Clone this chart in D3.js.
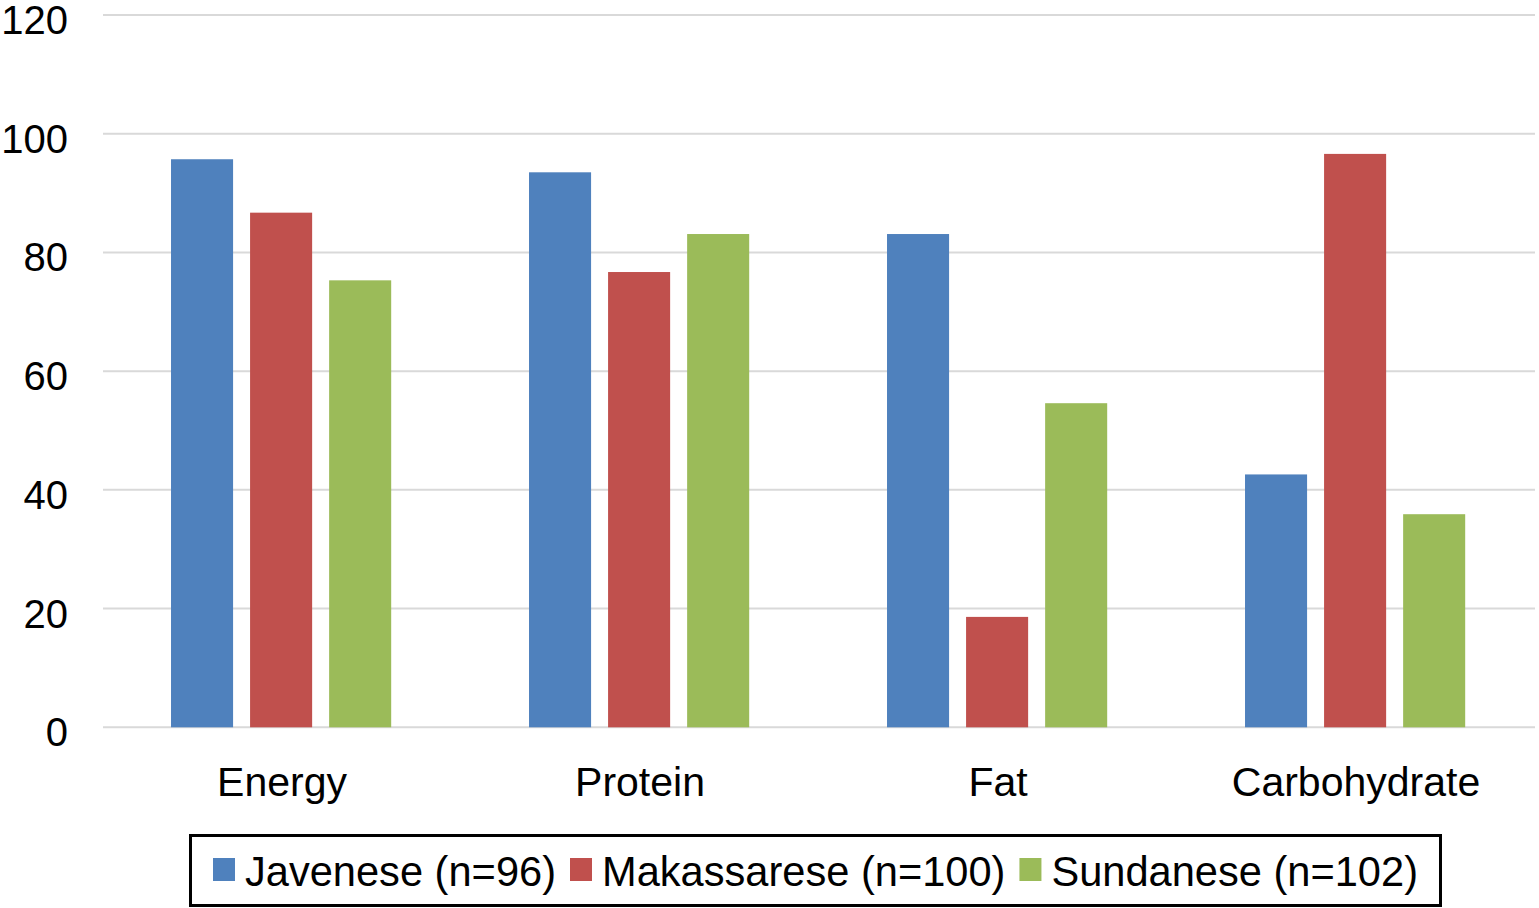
<!DOCTYPE html>
<html>
<head>
<meta charset="utf-8">
<script src="https://cdn.jsdelivr.net/npm/d3@7"></script>
<style>
body{margin:0;background:#fff;}
text{font-family:"Liberation Sans",Arial,Helvetica,sans-serif;fill:#000;}
</style>
</head>
<body>
<script>
var categories = ["Energy","Protein","Fat","Carbohydrate"];
var seriesNames = ["Javenese (n=96)","Makassarese (n=100)","Sundanese (n=102)"];
var javenese = [95.7, 93.5, 83.1, 42.6];
var makassarese = [86.7, 76.7, 18.6, 96.6];
var sundanese = [75.3, 83.1, 54.6, 35.9];
var yTicks = [0,20,40,60,80,100,120];
var colorcodes = ["#4F81BD","#C0504D","#9BBB59"];

var series = [javenese, makassarese, sundanese];
var W = 1539, H = 908;
var mLeft = 103, mRight = 1535, mTop = 15, mBottom = 727.3;

var svg = d3.select("body").append("svg").attr("width", W).attr("height", H);

var y = d3.scaleLinear().domain([0,120]).range([mBottom, mTop]);
var x0 = d3.scaleBand().domain(categories).range([mLeft, mRight]).padding(0);
var bw = x0.bandwidth();
var x1 = d3.scaleBand().domain(d3.range(3)).range([bw*0.19, bw*0.805]).paddingInner(0.215).paddingOuter(0);

// gridlines
svg.append("g").selectAll("line").data(yTicks).enter().append("line")
	.attr("x1", mLeft).attr("x2", mRight)
	.attr("y1", d=>y(d)).attr("y2", d=>y(d))
	.attr("stroke", "#d9d9d9").attr("stroke-width", 2);

// y tick labels
svg.append("g").selectAll("text").data(yTicks).enter().append("text")
	.attr("x", 68).attr("y", d=>y(d)+19)
	.attr("text-anchor", "end")
	.style("font-size", "40px")
	.text(d=>d);

// bars
var groups = svg.append("g").selectAll("g").data(categories).enter().append("g")
	.attr("transform", d=>"translate(" + x0(d) + ",0)");

groups.selectAll("rect").data(function(c, i){ return series.map(function(s, j){ return {s:j, v:s[i]}; }); })
	.enter().append("rect")
	.attr("x", d=>x1(d.s))
	.attr("width", x1.bandwidth())
	.attr("y", d=>y(d.v))
	.attr("height", d=>y(0)-y(d.v))
	.attr("fill", d=>colorcodes[d.s]);

// category labels
svg.append("g").selectAll("text").data(categories).enter().append("text")
	.attr("x", d=>x0(d)+bw/2)
	.attr("y", 796)
	.attr("text-anchor", "middle")
	.style("font-size", "41px")
	.text(d=>d);

// legend
var lg = svg.append("g");
lg.append("rect").attr("x", 190.5).attr("y", 835.5).attr("width", 1250).attr("height", 70)
	.attr("fill", "#fff").attr("stroke", "#000").attr("stroke-width", 3);

var lx = 213;
seriesNames.forEach(function(name, i){
	lg.append("rect").attr("x", lx).attr("y", 858).attr("width", 22).attr("height", 23)
		.attr("fill", colorcodes[i]);
	var t = lg.append("text").attr("x", lx+32).attr("y", 886)
		.style("font-size", "41.6px").text(name);
	lx = lx + 32 + t.node().getComputedTextLength() + 14;
});
</script>
</body>
</html>
